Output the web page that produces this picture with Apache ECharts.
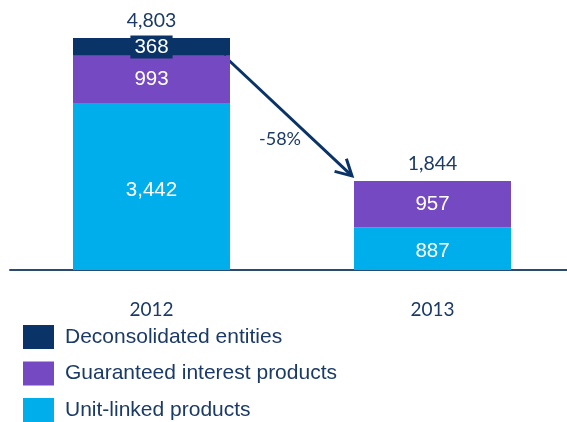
<!DOCTYPE html>
<html>
<head>
<meta charset="utf-8">
<script src="https://cdn.jsdelivr.net/npm/echarts@6/dist/echarts.min.js"></script>
<style>
	html, body { margin: 0; padding: 0; background: #fff; }
	#chart { width: 567px; height: 422px; }
</style>
</head>
<body>
<div id="chart"></div>
<script>
const years = ['2012', '2013'];
const unitLinked = [3442, 887];
const guaranteed = [993, 957];
const deconsolidated = [368, null];
const totals = [4803, 1844];
const changeLabel = '-58%';

const NAVY = '#0A3467';
const PURPLE = '#7549C1';
const CYAN = '#00AEEC';
const TEXT = '#1B3A66';

const chart = echarts.init(document.getElementById('chart'));

const fmt = (v) => v.toLocaleString('en-US');

// bars sit on slots 0 and 2 of a three slot axis, the middle one is a gap
const spread = (arr) => [arr[0], null, arr[1]];
const categories = [years[0], '', years[1]];

const insideLabel = {
	show: true,
	position: 'inside',
	color: '#fff',
	fontSize: 20.5,
	fontFamily: 'Liberation Sans',
	formatter: (p) => fmt(p.value)
};

const option = {
	animation: false,
	grid: [
		{ left: 81.25, width: 421.5, top: 38, bottom: 152 },
		{ left: 10, right: 0, top: 38, bottom: 152 }
	],
	legend: {
		orient: 'vertical',
		left: 23,
		top: 325,
		padding: 0,
		height: 120,
		itemWidth: 31,
		itemHeight: 24,
		itemGap: 12.5,
		icon: 'rect',
		textStyle: { color: TEXT, fontSize: 21, fontFamily: 'Liberation Sans', padding: [0, 0, 0, 6] },
		data: ['Deconsolidated entities', 'Guaranteed interest products', 'Unit-linked products']
	},
	xAxis: [
		{
			type: 'category',
			gridIndex: 0,
			data: categories,
			axisLine: { show: false },
			axisTick: { show: false },
			axisLabel: { interval: 0, margin: 30, color: TEXT, fontSize: 19, fontFamily: 'Lato' }
		},
		{
			type: 'category',
			gridIndex: 1,
			data: years,
			axisLine: { lineStyle: { color: '#2B4A72', width: 2 } },
			axisTick: { show: false },
			axisLabel: { show: false }
		}
	],
	yAxis: [
		{ type: 'value', gridIndex: 0, min: 0, max: 4803, show: false },
		{ type: 'value', gridIndex: 1, min: 0, max: 4803, show: false }
	],
	series: [
		{
			name: 'Unit-linked products',
			type: 'bar',
			stack: 'total',
			barWidth: 157,
			clip: false,
			itemStyle: { color: CYAN },
			label: Object.assign({}, insideLabel, { offset: [0, 3] }),
			data: spread(unitLinked)
		},
		{
			name: 'Guaranteed interest products',
			type: 'bar',
			stack: 'total',
			barWidth: 157,
			clip: false,
			itemStyle: { color: PURPLE },
			label: insideLabel,
			data: spread(guaranteed)
		},
		{
			name: 'Deconsolidated entities',
			type: 'bar',
			stack: 'total',
			barWidth: 157,
			clip: false,
			itemStyle: { color: NAVY },
			label: Object.assign({}, insideLabel, {
				backgroundColor: NAVY,
				padding: [2, 4, 0, 4]
			}),
			data: spread(deconsolidated)
		},
		{
			name: 'total',
			type: 'bar',
			stack: 'total',
			barWidth: 157,
			clip: false,
			itemStyle: { color: 'transparent' },
			label: {
				show: true,
				position: 'top',
				distance: 7,
				color: TEXT,
				fontSize: 19.5,
				fontFamily: 'Lato',
				formatter: (p) => fmt(totals[p.dataIndex === 0 ? 0 : 1])
			},
			data: spread(totals.map(() => 0))
		}
	]
};

chart.setOption(option);

// arrow from top of 2012 purple block to top-left of 2013 bar
function drawArrow() {
	const half = 157 / 2;
	const p0 = chart.convertToPixel({ seriesIndex: 0 }, [0, unitLinked[0] + guaranteed[0]]);
	const p1 = chart.convertToPixel({ seriesIndex: 0 }, [2, totals[1]]);
	const x0 = p0[0] + half - 6, y0 = p0[1];
	const x1 = p1[0] - half - 2, y1 = p1[1] - 5;
	const ang = Math.atan2(y1 - y0, x1 - x0);
	const len = 18;
	const spreadAng = 0.5;
	const headA = [x1 - len * Math.cos(ang - spreadAng), y1 - len * Math.sin(ang - spreadAng)];
	const headB = [x1 - len * Math.cos(ang + spreadAng), y1 - len * Math.sin(ang + spreadAng)];
	chart.setOption({
		graphic: [
			{
				type: 'line',
				shape: { x1: x0, y1: y0, x2: x1, y2: y1 },
				style: { stroke: NAVY, lineWidth: 3 }
			},
			{
				type: 'polyline',
				shape: { points: [headA, [x1, y1], headB] },
				style: { stroke: NAVY, lineWidth: 3, fill: null }
			},
			{
				type: 'text',
				x: 259,
				y: 130,
				style: { text: changeLabel, fill: TEXT, fontSize: 18, fontFamily: 'Lato' }
			}
		]
	});
}
drawArrow();
</script>
</body>
</html>
